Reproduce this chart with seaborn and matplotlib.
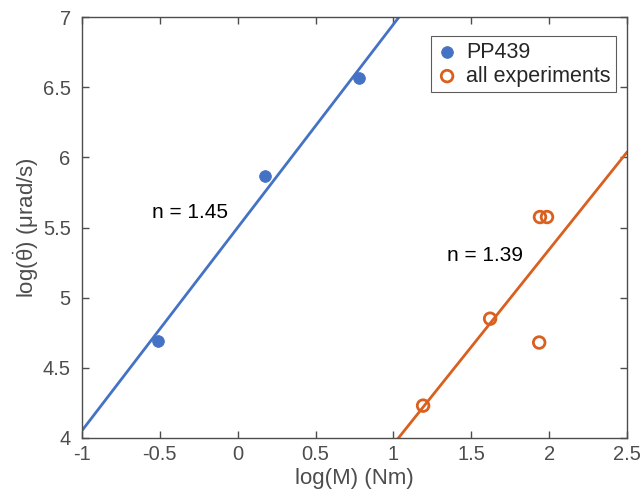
import matplotlib
matplotlib.use("Agg")
import matplotlib.pyplot as plt
import numpy as np
import pandas as pd
import seaborn as sns

pp439_logM = [-0.51, 0.175, 0.78]
pp439_lograte = [4.69, 5.87, 6.565]
all_logM = [1.19, 1.62, 1.935, 1.94, 1.985]
all_lograte = [4.23, 4.85, 4.68, 5.575, 5.575]

fit_n = [1.45, 1.39]
fit_b = [5.50, 2.565]
fit_labels = ["n = 1.45", "n = 1.39"]
label_pos = [(-0.55, 5.61), (1.345, 5.30)]

xlim = (-1, 2.5)
ylim = (4, 7)
xticks = [-1, -0.5, 0, 0.5, 1, 1.5, 2, 2.5]
xticklabels = ["-1", "-0.5", "0", "0.5", "1", "1.5", "2", "2.5"]
yticks = [4, 4.5, 5, 5.5, 6, 6.5, 7]
yticklabels = ["4", "4.5", "5", "5.5", "6", "6.5", "7"]

blue = "#4472C4"
orange = "#D9601F"
grey = "#4d4d4d"

sns.set_style("white")
plt.rcParams["font.family"] = ["Liberation Sans", "DejaVu Sans"]
plt.rcParams["mathtext.fontset"] = "custom"
plt.rcParams["mathtext.rm"] = "Liberation Sans"
plt.rcParams["mathtext.it"] = "Liberation Sans"

fig = plt.figure(figsize=(6.44, 4.92), dpi=100)
ax = fig.add_axes([0.127, 0.110, 0.847, 0.855])

# fit lines
xs = np.array(xlim)
for n, b, c in zip(fit_n, fit_b, [blue, orange]):
    sns.lineplot(x=xs, y=n * xs + b, color=c, lw=2, ax=ax, legend=False)

sns.scatterplot(x=pp439_logM, y=pp439_lograte, color=blue, s=70,
                edgecolor=blue, ax=ax, label="PP439", zorder=3)
sns.scatterplot(x=all_logM, y=all_lograte, facecolor="none", s=70,
                edgecolor=orange, linewidth=2, ax=ax,
                label="all experiments", zorder=3)

for txt, (tx, ty) in zip(fit_labels, label_pos):
    ax.text(tx, ty, txt, fontsize=15, color="black", va="center", ha="left")

ax.set_xlim(xlim); ax.set_ylim(ylim)
ax.set_xticks(xticks); ax.set_xticklabels(xticklabels)
ax.set_yticks(yticks); ax.set_yticklabels(yticklabels)
ax.tick_params(direction="in", length=5, width=1, colors=grey,
               labelsize=14.5, top=True, right=True, bottom=True, left=True,
               labeltop=False, labelright=False)
ax.tick_params(axis="x", pad=5)
ax.tick_params(axis="y", pad=8)
for s in ax.spines.values():
    s.set_color(grey); s.set_linewidth(1)
ax.set_xlabel("log(M) (Nm)", fontsize=16, color=grey, labelpad=3)
ax.set_ylabel(r"log($\dot{\theta}$) ($\mu$rad/s)", fontsize=16,
              color=grey, labelpad=1)

leg = ax.legend(loc="upper right", fontsize=15.5, frameon=True, fancybox=False,
                handletextpad=0.4, borderpad=0.25, labelspacing=0.15,
                bbox_to_anchor=(0.98, 0.955), handlelength=1.0,
                borderaxespad=0)
leg.get_frame().set_edgecolor("#333333")
leg.get_frame().set_linewidth(0.8)

fig.savefig("out.png", dpi=100)
